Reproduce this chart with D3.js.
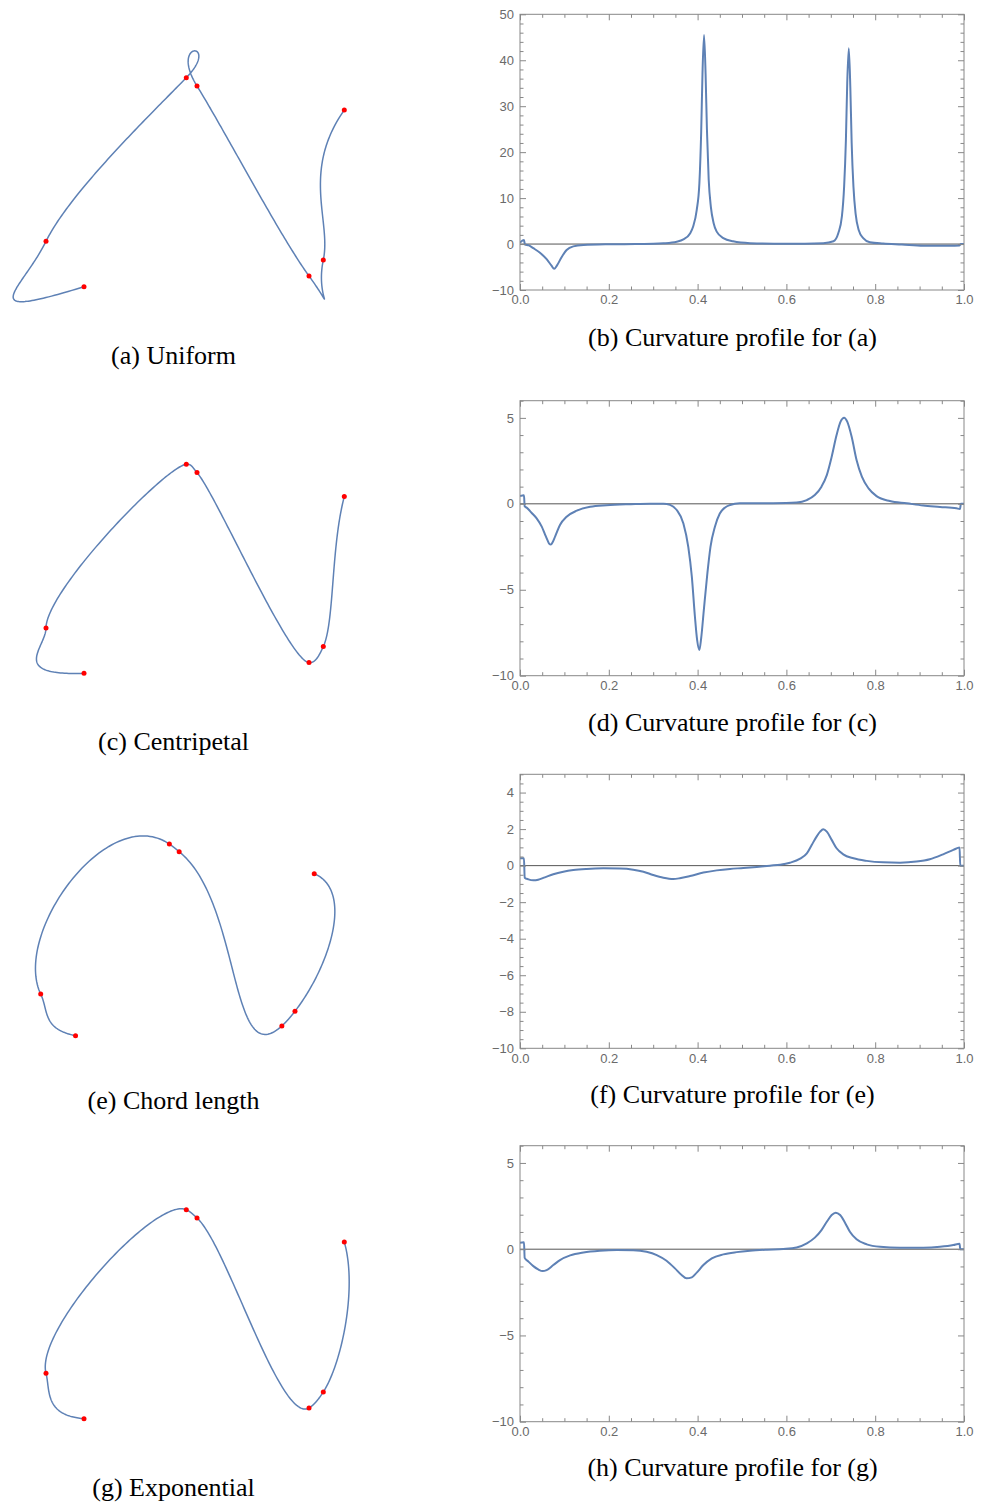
<!DOCTYPE html>
<html><head><meta charset="utf-8">
<script src="https://cdn.jsdelivr.net/npm/d3@7"></script>
<style>body{margin:0;background:#fff}</style>
</head><body><svg id="c" width="983" height="1504"></svg>
<script>
// ---------- DATA ----------
// control points (shared by all four parameterisations), arbitrary units
const ctrlX = [3.8, 0, 14.03, 15.1, 26.3, 27.73, 29.83];
const ctrlY = [0, 4.54, 20.9, 20.07, 1.07, 2.67, 17.67];
// parameterisation exponent per row
const paramAlpha = [0, 0.5, 1, 0.75];
const tangentScale = [1.4, 1, 1.2, 1];
// end tangents (per-segment units)
const startTanX = [-34.2, -22.8, -10.9, -12];
const startTanY = [-10.6, -0.8, 2.2, 1];
const endTanX = [13, 4, -13.3, -4];
const endTanY = [18.5, 15, 5.7, 14];

const leftCaptions = ["(a) Uniform", "(c) Centripetal", "(e) Chord length", "(g) Exponential"];
const rightCaptions = ["(b) Curvature profile for (a)", "(d) Curvature profile for (c)",
                       "(f) Curvature profile for (e)", "(h) Curvature profile for (g)"];

// curvature profiles
const curvB_t = [0, 0.009, 0.011, 0.02, 0.03, 0.045, 0.06, 0.071, 0.077, 0.083, 0.094, 0.105, 0.12, 0.143, 0.2, 0.26, 0.3, 0.323, 0.353, 0.368, 0.383, 0.39, 0.398, 0.404, 0.408, 0.411, 0.4145, 0.418, 0.421, 0.425, 0.43, 0.436, 0.443, 0.458, 0.48, 0.518, 0.6, 0.683, 0.706, 0.717, 0.725, 0.73, 0.734, 0.737, 0.7405, 0.744, 0.747, 0.751, 0.756, 0.763, 0.773, 0.788, 0.818, 0.86, 0.908, 0.968, 0.99, 0.993, 1.0];
const curvB_k = [0.3, 0.9, -0.1, -0.3, -0.9, -1.9, -3.3, -4.7, -5.4, -4.7, -2.8, -1.3, -0.5, -0.2, -0.05, 0.0, 0.05, 0.15, 0.5, 1.0, 2.3, 3.8, 7.4, 13.2, 24.1, 37, 45.5, 37, 25, 14, 8.0, 4.6, 2.7, 1.3, 0.6, 0.2, 0.05, 0.2, 0.6, 2.4, 6.0, 12.5, 22.6, 35, 42.6, 34, 22, 12.5, 6.5, 3.0, 1.3, 0.4, 0.1, -0.1, -0.35, -0.35, -0.3, 0, 0];

const curvD_t = [0, 0.009, 0.0105, 0.015, 0.026, 0.0375, 0.049, 0.056, 0.0616, 0.066, 0.069, 0.072, 0.079, 0.09, 0.105, 0.128, 0.158, 0.195, 0.25, 0.293, 0.323, 0.338, 0.353, 0.368, 0.379, 0.387, 0.394, 0.399, 0.404, 0.408, 0.414, 0.422, 0.429, 0.439, 0.45, 0.462, 0.473, 0.495, 0.57, 0.623, 0.646, 0.664, 0.679, 0.691, 0.702, 0.713, 0.722, 0.73, 0.737, 0.747, 0.758, 0.77, 0.785, 0.803, 0.833, 0.871, 0.908, 0.946, 0.983, 0.991, 0.993, 1.0];
const curvD_k = [0.45, 0.5, -0.15, -0.22, -0.52, -0.85, -1.33, -1.76, -2.1, -2.33, -2.37, -2.3, -1.91, -1.23, -0.75, -0.4, -0.17, -0.08, -0.02, 0.01, 0.01, -0.06, -0.36, -1.14, -2.5, -4.24, -6.57, -7.93, -8.5, -7.83, -6.18, -4.05, -2.5, -1.33, -0.56, -0.21, -0.07, 0.03, 0.04, 0.08, 0.22, 0.51, 1.0, 1.67, 2.74, 4.0, 4.78, 5.01, 4.78, 3.9, 2.55, 1.58, 0.9, 0.45, 0.16, 0.03, -0.1, -0.18, -0.26, -0.3, 0.0, 0.0];

const curvF_t = [0, 0.009, 0.0105, 0.019, 0.03, 0.041, 0.056, 0.075, 0.0976, 0.12, 0.15, 0.188, 0.225, 0.255, 0.278, 0.3, 0.323, 0.345, 0.36, 0.383, 0.413, 0.443, 0.473, 0.503, 0.533, 0.563, 0.586, 0.608, 0.631, 0.646, 0.657, 0.668, 0.676, 0.683, 0.691, 0.702, 0.713, 0.728, 0.751, 0.781, 0.818, 0.856, 0.893, 0.923, 0.953, 0.976, 0.99, 0.9915, 1.0];
const curvF_k = [0.4, 0.4, -0.66, -0.75, -0.8, -0.77, -0.64, -0.47, -0.33, -0.24, -0.18, -0.15, -0.16, -0.22, -0.33, -0.51, -0.66, -0.73, -0.69, -0.57, -0.38, -0.26, -0.18, -0.13, -0.07, 0.0, 0.05, 0.16, 0.38, 0.67, 1.13, 1.59, 1.86, 1.99, 1.86, 1.41, 0.95, 0.62, 0.4, 0.26, 0.18, 0.16, 0.22, 0.35, 0.62, 0.86, 0.99, 0.0, 0.0];

const curvH_t = [0, 0.009, 0.0105, 0.019, 0.03, 0.041, 0.051, 0.06, 0.075, 0.09, 0.113, 0.143, 0.18, 0.218, 0.255, 0.285, 0.308, 0.33, 0.349, 0.364, 0.375, 0.387, 0.398, 0.413, 0.432, 0.458, 0.488, 0.518, 0.556, 0.593, 0.623, 0.646, 0.664, 0.679, 0.691, 0.702, 0.711, 0.721, 0.732, 0.743, 0.758, 0.781, 0.811, 0.856, 0.908, 0.946, 0.976, 0.99, 0.9915, 1.0];
const curvH_k = [0.38, 0.4, -0.5, -0.72, -0.98, -1.17, -1.27, -1.21, -0.92, -0.63, -0.36, -0.19, -0.09, -0.05, -0.06, -0.15, -0.34, -0.67, -1.11, -1.5, -1.69, -1.63, -1.36, -0.92, -0.53, -0.3, -0.17, -0.09, -0.03, 0.01, 0.1, 0.34, 0.67, 1.11, 1.59, 1.98, 2.12, 1.98, 1.54, 1.01, 0.57, 0.28, 0.14, 0.09, 0.09, 0.14, 0.24, 0.32, 0.0, 0.0];

const curvT = [curvB_t, curvD_t, curvF_t, curvH_t];
const curvK = [curvB_k, curvD_k, curvF_k, curvH_k];

const xTicksMajor = [0, 0.2, 0.4, 0.6, 0.8, 1.0];
const yDomains = [[-10, 50], [-10, 6], [-10, 5], [-10, 6]];
const yTicksMajor = [[-10, 0, 10, 20, 30, 40, 50], [-10, -5, 0, 5], [-10, -8, -6, -4, -2, 0, 2, 4], [-10, -5, 0, 5]];
const yMinorStep = [2, 1, 0.5, 1];

// ---------- LAYOUT ----------
const curveLayout = [
  {x0: 46, y0: 286.7, s: 10},
  {x0: 46, y0: 673.3, s: 10},
  {x0: 40.7, y0: 1035.7, s: 9.17},
  {x0: 46, y0: 1418.7, s: 10}
];
const plotLayout = [
  {top: 14.3, bottom: 290},
  {top: 400.7, bottom: 675.7},
  {top: 774.3, bottom: 1048.3},
  {top: 1145.7, bottom: 1421.7}
];
const plotLeft = 520, plotRight = 964;
const leftCapY = [364, 750, 1109, 1496];
const rightCapY = [346, 731, 1103, 1476];

const BLUE = "#5e81b5";
const svg = d3.select("#c");
svg.append("rect").attr("width", 983).attr("height", 1504).attr("fill", "#fff");

// Catmull-Rom style Hermite spline with knot spacing |dP|^alpha
function splinePoints(xs, ys, alpha, tScale, m0, mN, steps) {
  const n = xs.length;
  const d = [];
  for (let i = 0; i < n - 1; i++) {
    const L = Math.hypot(xs[i + 1] - xs[i], ys[i + 1] - ys[i]);
    d.push(alpha === 0 ? 1 : Math.pow(L, alpha));
  }
  const v = new Array(n);
  for (let i = 1; i < n - 1; i++) {
    const f = (a) => tScale * ((a[i] - a[i - 1]) / d[i - 1] - (a[i + 1] - a[i - 1]) / (d[i - 1] + d[i]) + (a[i + 1] - a[i]) / d[i]);
    v[i] = [f(xs), f(ys)];
  }
  const pts = [];
  for (let i = 0; i < n - 1; i++) {
    const h = d[i];
    const a = i === 0 ? m0 : [v[i][0] * h, v[i][1] * h];
    const b = i === n - 2 ? mN : [v[i + 1][0] * h, v[i + 1][1] * h];
    for (let k = (i === 0 ? 0 : 1); k <= steps; k++) {
      const s = k / steps, s2 = s * s, s3 = s2 * s;
      const h00 = 2 * s3 - 3 * s2 + 1, h10 = s3 - 2 * s2 + s, h01 = -2 * s3 + 3 * s2, h11 = s3 - s2;
      pts.push([
        h00 * xs[i] + h10 * a[0] + h01 * xs[i + 1] + h11 * b[0],
        h00 * ys[i] + h10 * a[1] + h01 * ys[i + 1] + h11 * b[1]
      ]);
    }
  }
  return pts;
}

for (let r = 0; r < 4; r++) {
  // ----- left: curve with control points -----
  const L = curveLayout[r];
  const sx = d3.scaleLinear().domain([0, 10]).range([L.x0, L.x0 + 10 * L.s]);
  const sy = d3.scaleLinear().domain([0, 10]).range([L.y0, L.y0 - 10 * L.s]);
  const pts = splinePoints(ctrlX, ctrlY, paramAlpha[r], tangentScale[r],
                           [startTanX[r], startTanY[r]], [endTanX[r], endTanY[r]], 80);
  const gL = svg.append("g");
  gL.append("path")
    .attr("d", d3.line().x(p => sx(p[0])).y(p => sy(p[1]))(pts))
    .attr("fill", "none").attr("stroke", BLUE).attr("stroke-width", 1.5)
    .attr("stroke-linejoin", "round");
  gL.selectAll("circle").data(ctrlX.map((x, i) => [x, ctrlY[i]])).join("circle")
    .attr("cx", p => sx(p[0])).attr("cy", p => sy(p[1])).attr("r", 2.5).attr("fill", "#ff0000");

  svg.append("text").attr("x", 173.5).attr("y", leftCapY[r]).attr("text-anchor", "middle")
    .attr("font-family", "'Liberation Serif','Times New Roman',serif").attr("font-size", 26)
    .attr("fill", "#000").text(leftCaptions[r]);

  // ----- right: curvature profile -----
  const P = plotLayout[r];
  const x = d3.scaleLinear().domain([0, 1]).range([plotLeft, plotRight]);
  const y = d3.scaleLinear().domain(yDomains[r]).range([P.bottom, P.top]);
  const g = svg.append("g");
  const W = plotRight - plotLeft;
  const clipId = "clip" + r;
  g.append("clipPath").attr("id", clipId).append("rect")
    .attr("x", plotLeft).attr("y", P.top).attr("width", W).attr("height", P.bottom - P.top);

  // zero axis
  g.append("line").attr("x1", plotLeft).attr("x2", plotRight).attr("y1", y(0)).attr("y2", y(0))
    .attr("stroke", "#555").attr("stroke-width", 1);

  // data line
  const data = curvT[r].map((t, i) => [t, curvK[r][i]]);
  g.append("path").attr("clip-path", `url(#${clipId})`)
    .attr("d", d3.line().x(p => x(p[0])).y(p => y(p[1])).curve(d3.curveMonotoneX)(data))
    .attr("fill", "none").attr("stroke", BLUE).attr("stroke-width", 2).attr("stroke-linejoin", "round");

  // axes (ticks inward on all sides)
  const frameColor = "#888";
  const minorX = d3.range(0, 1.0001, 0.05).filter(v => !xTicksMajor.some(m => Math.abs(m - v) < 1e-6));
  const [d0, d1] = yDomains[r];
  const minorY = d3.range(d0, d1 + 1e-6, yMinorStep[r]).filter(v => !yTicksMajor[r].some(m => Math.abs(m - v) < 1e-6));
  const fmtY = v => (v < 0 ? "\u2212" + Math.abs(v) : String(v));

  const styleAxis = sel => {
    sel.select(".domain").remove();
    sel.selectAll("line").attr("stroke", frameColor);
    sel.selectAll("text").attr("fill", "#6a6a6a").attr("font-family", "'Liberation Sans',Arial,sans-serif").attr("font-size", 13);
  };
  g.append("g").attr("transform", `translate(0,${P.bottom})`)
    .call(d3.axisBottom(x).tickValues(xTicksMajor).tickFormat(d3.format(".1f")).tickSizeInner(-6).tickSizeOuter(0).tickPadding(5)).call(styleAxis);
  g.append("g").attr("transform", `translate(0,${P.bottom})`)
    .call(d3.axisBottom(x).tickValues(minorX).tickFormat("").tickSizeInner(-3.5).tickSizeOuter(0)).call(styleAxis);
  g.append("g").attr("transform", `translate(0,${P.top})`)
    .call(d3.axisTop(x).tickValues(xTicksMajor).tickFormat("").tickSizeInner(-6).tickSizeOuter(0)).call(styleAxis);
  g.append("g").attr("transform", `translate(0,${P.top})`)
    .call(d3.axisTop(x).tickValues(minorX).tickFormat("").tickSizeInner(-3.5).tickSizeOuter(0)).call(styleAxis);
  g.append("g").attr("transform", `translate(${plotLeft},0)`)
    .call(d3.axisLeft(y).tickValues(yTicksMajor[r]).tickFormat(fmtY).tickSizeInner(-6).tickSizeOuter(0).tickPadding(6)).call(styleAxis);
  g.append("g").attr("transform", `translate(${plotLeft},0)`)
    .call(d3.axisLeft(y).tickValues(minorY).tickFormat("").tickSizeInner(-3.5).tickSizeOuter(0)).call(styleAxis);
  g.append("g").attr("transform", `translate(${plotRight},0)`)
    .call(d3.axisRight(y).tickValues(yTicksMajor[r]).tickFormat("").tickSizeInner(-6).tickSizeOuter(0)).call(styleAxis);
  g.append("g").attr("transform", `translate(${plotRight},0)`)
    .call(d3.axisRight(y).tickValues(minorY).tickFormat("").tickSizeInner(-3.5).tickSizeOuter(0)).call(styleAxis);

  // frame
  g.append("rect").attr("x", plotLeft).attr("y", P.top).attr("width", W).attr("height", P.bottom - P.top)
    .attr("fill", "none").attr("stroke", frameColor).attr("stroke-width", 1);

  svg.append("text").attr("x", 732.5).attr("y", rightCapY[r]).attr("text-anchor", "middle")
    .attr("font-family", "'Liberation Serif','Times New Roman',serif").attr("font-size", 26)
    .attr("fill", "#000").text(rightCaptions[r]);
}
</script></body></html>
